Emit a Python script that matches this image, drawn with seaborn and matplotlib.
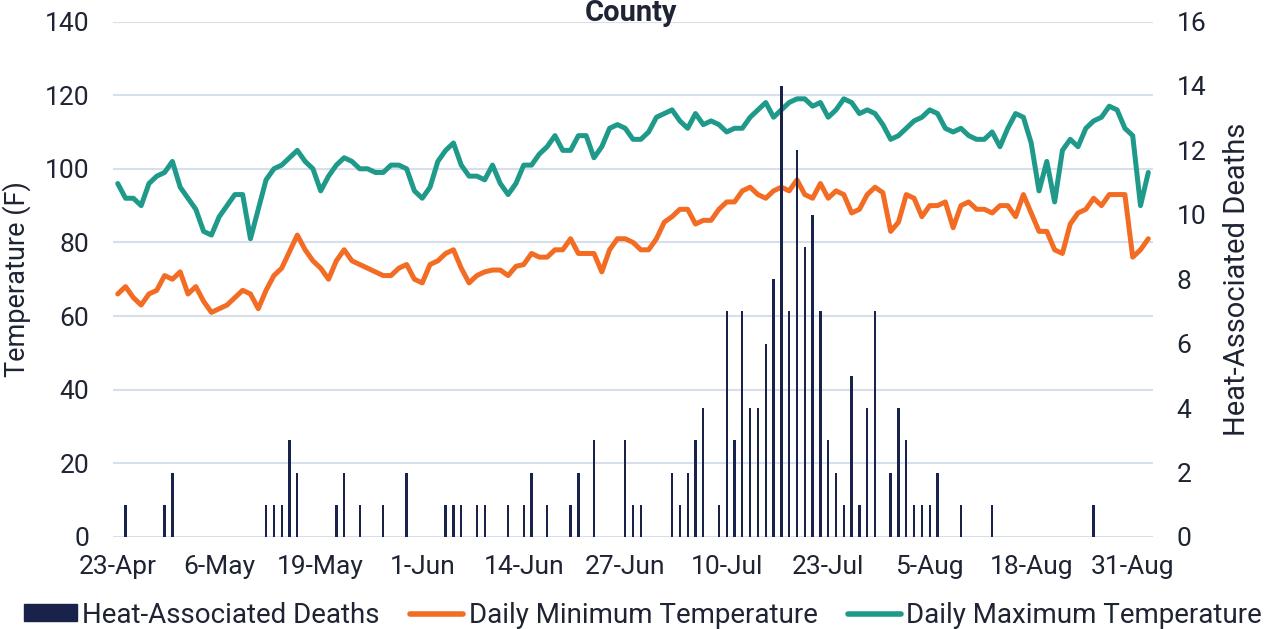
import numpy as np
import pandas as pd
import seaborn as sns
import matplotlib.pyplot as plt
from matplotlib.patches import Patch
from matplotlib.lines import Line2D

sns.set_theme(style="white")
plt.rcParams['font.family'] = ['Roboto', 'DejaVu Sans']

# daily values, 23-Apr .. 2-Sep
tick_labels = ["23-Apr", "6-May", "19-May", "1-Jun", "14-Jun", "27-Jun",
               "10-Jul", "23-Jul", "5-Aug", "18-Aug", "31-Aug"]

max_temp = [96, 92, 92, 90, 96, 98, 99, 102, 95, 92,
            89, 83, 82, 87, 90, 93, 93, 81, 89, 97,
            100, 101, 103, 105, 102, 100, 94, 98, 101, 103,
            102, 100, 100, 99, 99, 101, 101, 100, 94, 92,
            95, 102, 105, 107, 101, 98, 98, 97, 101, 96,
            93, 96, 101, 101, 104, 106, 109, 105, 105, 109,
            109, 103, 106, 111, 112, 111, 108, 108, 110, 114,
            115, 116, 113, 111, 115, 112, 113, 112, 110, 111,
            111, 114, 116, 118, 114, 116, 118, 119, 119, 117,
            118, 114, 116, 119, 118, 115, 116, 115, 112, 108,
            109, 111, 113, 114, 116, 115, 111, 110, 111, 109,
            108, 108, 110, 106, 111, 115, 114, 107, 94, 102,
            91, 105, 108, 106, 111, 113, 114, 117, 116, 111,
            109, 90, 99]

min_temp = [66, 68, 65, 63, 66, 67, 71, 70, 72, 66,
            68, 64, 61, 62, 63, 65, 67, 66, 62, 67,
            71, 73, 77.5, 82, 78, 75, 73, 70, 75, 78,
            75, 74, 73, 72, 71, 71, 73, 74, 70, 69,
            74, 75, 77, 78, 73, 69, 71, 72, 72.5, 72.5,
            71, 73.5, 74, 77, 76, 76, 78, 78, 81, 77,
            77, 77, 72, 78, 81, 81, 80, 78, 78, 81,
            85.5, 87, 89, 89, 85, 86, 86, 89, 91, 91,
            94, 95, 93, 92, 94, 95, 94, 97, 93, 92,
            96, 92, 94, 93, 88, 89, 93, 95, 93.5, 83,
            85.5, 93, 92, 87, 90, 90, 91, 84, 90, 91,
            89, 89, 88, 90, 90, 87, 93, 88, 83, 83,
            78, 77, 85, 88, 89, 92, 90, 93, 93, 93,
            76, 78, 81]

deaths = [0, 1, 0, 0, 0, 0, 1, 2, 0, 0,
          0, 0, 0, 0, 0, 0, 0, 0, 0, 1,
          1, 1, 3, 2, 0, 0, 0, 0, 1, 2,
          0, 1, 0, 0, 1, 0, 0, 2, 0, 0,
          0, 0, 1, 1, 1, 0, 1, 1, 0, 0,
          1, 0, 1, 2, 0, 1, 0, 0, 1, 2,
          0, 3, 0, 0, 0, 3, 1, 1, 0, 0,
          0, 2, 1, 2, 3, 4, 0, 1, 7, 3,
          7, 4, 4, 6, 8, 14, 7, 12, 9, 10,
          7, 3, 2, 1, 5, 1, 4, 7, 0, 2,
          4, 3, 1, 1, 1, 2, 0, 0, 1, 0,
          0, 0, 1, 0, 0, 0, 0, 0, 0, 0,
          0, 0, 0, 0, 0, 1, 0, 0, 0, 0,
          0, 0, 0]

navy = "#18224b"
orange = "#f36c24"
teal = "#1f9a8a"
txt = "#1e2433"

days = np.arange(len(max_temp))
df = pd.DataFrame({"day": days, "max": max_temp, "min": min_temp, "deaths": deaths})

fig = plt.figure(figsize=(12.76, 6.29), dpi=100)
ax = fig.add_axes([0.0886, 0.1463, 0.815, 0.8195])
ax2 = ax.twinx()

sns.lineplot(data=df, x="day", y="min", color=orange, lw=3.6, ax=ax,
             solid_joinstyle="round", solid_capstyle="round")
sns.lineplot(data=df, x="day", y="max", color=teal, lw=3.6, ax=ax,
             solid_joinstyle="round", solid_capstyle="round")
sns.barplot(data=df, x="day", y="deaths", native_scale=True, width=0.3,
            color=navy, saturation=1, ax=ax2, linewidth=0)

ax.set_ylim(0, 140)
ax.set_yticks(range(0, 141, 20))
ax2.set_ylim(0, 16)
ax2.set_yticks(range(0, 17, 2))
ax.set_xlim(-0.6, 132.6)
ax.set_xticks(range(0, 131, 13))
ax.set_xticklabels(tick_labels)

ax.grid(axis="y", color="#d6dfeb", lw=1.5)
ax.grid(axis="x", visible=False)
ax2.grid(False)
for a in (ax, ax2):
    for s in a.spines.values():
        s.set_visible(False)
    a.tick_params(length=0, labelsize=19, labelcolor=txt)
ax.tick_params(axis="y", pad=17)
ax2.tick_params(axis="y", pad=17)
ax.tick_params(axis="x", pad=13)

ax.set_xlabel("")
ax.set_ylabel("Temperature (F)", fontsize=19.5, color=txt, labelpad=10)
ax2.set_ylabel("Heat-Associated Deaths", fontsize=21, color=txt, labelpad=12)

fig.text(0.4945, 0.966, "County", ha="center", va="baseline",
         fontsize=21, fontweight="bold", color=txt)

handles = [Patch(color=navy),
           Line2D([], [], color=orange, lw=4, solid_capstyle="round"),
           Line2D([], [], color=teal, lw=4, solid_capstyle="round")]
labels = ["Heat-Associated Deaths", "Daily Minimum Temperature", "Daily Maximum Temperature"]
fig.legend(handles, labels, loc="center", bbox_to_anchor=(0.504, 0.022), ncol=3,
           frameon=False, fontsize=20, handlelength=1.9, handleheight=0.55,
           handletextpad=0.2, columnspacing=1.1, labelcolor=txt)

fig.savefig("out.png", dpi=100)
